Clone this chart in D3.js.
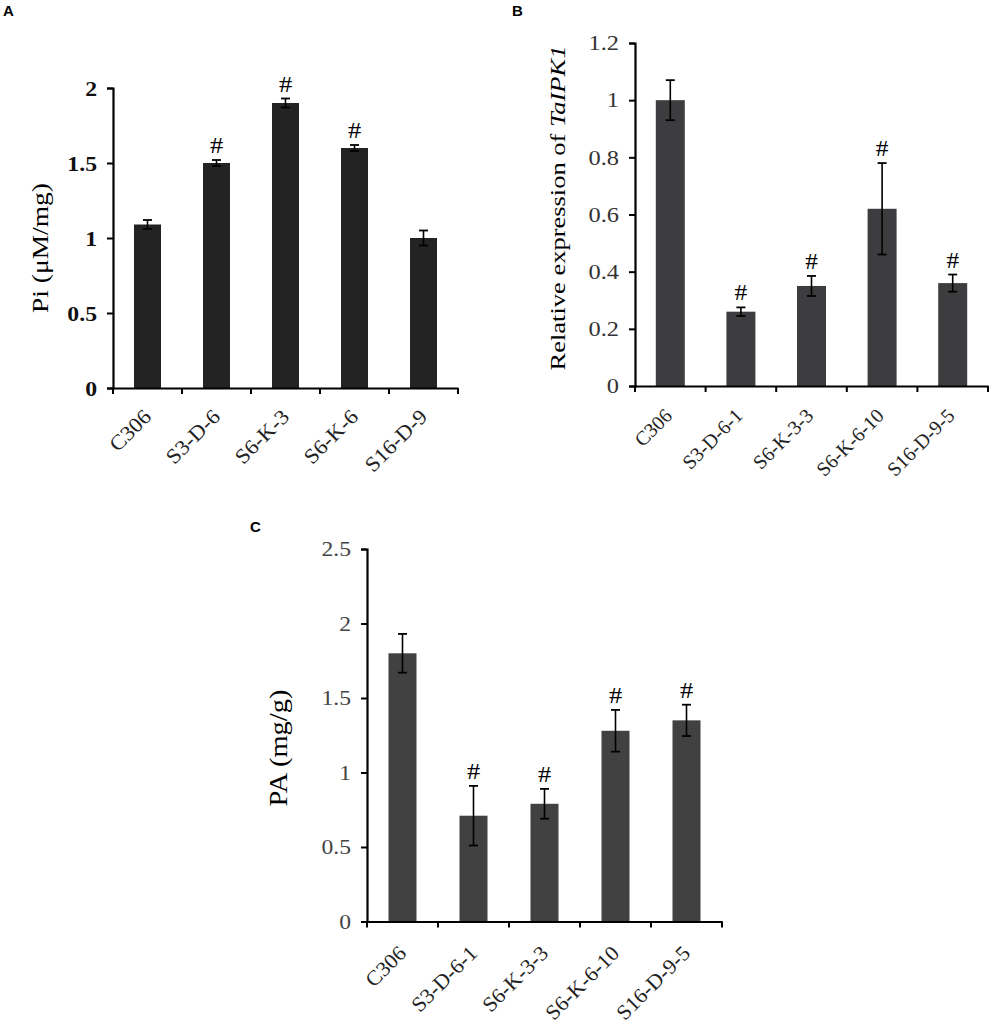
<!DOCTYPE html>
<html><head><meta charset="utf-8">
<script src="https://cdn.jsdelivr.net/npm/d3@7"></script>
<style>body{margin:0;background:#fff}svg{display:block}</style>
</head><body>
<svg id="chart" width="1000" height="1033"></svg>
<script>
// Panel A
const catsA = ["C306","S3-D-6","S6-K-3","S6-K-6","S16-D-9"];
const valsA = [1.09, 1.50, 1.90, 1.60, 1.00];
const errA  = [0.03, 0.02, 0.03, 0.02, 0.05];
const sigA  = [false, true, true, true, false];
const ticksA = [0, 0.5, 1, 1.5, 2];
// Panel B
const catsB = ["C306","S3-D-6-1","S6-K-3-3","S6-K-6-10","S16-D-9-5"];
const valsB = [1.00, 0.26, 0.35, 0.62, 0.36];
const errB  = [0.07, 0.015, 0.035, 0.16, 0.03];
const sigB  = [false, true, true, true, true];
const ticksB = [0, 0.2, 0.4, 0.6, 0.8, 1, 1.2];
// Panel C
const catsC = ["C306","S3-D-6-1","S6-K-3-3","S6-K-6-10","S16-D-9-5"];
const valsC = [1.80, 0.71, 0.79, 1.28, 1.35];
const errC  = [0.13, 0.20, 0.10, 0.14, 0.105];
const sigC  = [false, true, true, true, true];
const ticksC = [0, 0.5, 1, 1.5, 2, 2.5];

const svg = d3.select("#chart");
const serif = "'Liberation Serif','Times New Roman',serif";

function panel(o){
  const g = svg.append("g");
  const xb = d3.scaleBand().domain(o.cats).range([o.x0, o.x1]);
  const y = d3.scaleLinear().domain([0, o.ymax]).range([o.y0, o.y1]);
  const cx = c => xb(c) + xb.bandwidth()/2;
  // bars
  g.selectAll("rect.bar").data(o.vals).join("rect")
    .attr("x", (d,i)=> cx(o.cats[i]) - o.bw/2)
    .attr("width", o.bw)
    .attr("y", d=>y(d)).attr("height", d=>y(0)-y(d))
    .attr("fill", o.fill);
  // error bars
  const eg = g.selectAll("g.err").data(o.vals.map((v,i)=>({v, e:o.err[i], s:o.sig[i], c:o.cats[i]}))).join("g")
    .attr("transform",d=>`translate(${cx(d.c)},0)`);
  eg.append("line").attr("y1",d=>y(d.v+d.e)).attr("y2",d=>y(d.v-d.e))
    .attr("stroke","#000").attr("stroke-width",1.6);
  eg.append("line").attr("x1",-4.5).attr("x2",4.5).attr("y1",d=>y(d.v+d.e)).attr("y2",d=>y(d.v+d.e))
    .attr("stroke","#000").attr("stroke-width",1.8);
  eg.append("line").attr("x1",-4.5).attr("x2",4.5).attr("y1",d=>y(d.v-d.e)).attr("y2",d=>y(d.v-d.e))
    .attr("stroke","#000").attr("stroke-width",1.8);
  eg.filter(d=>d.s).append("text")
    .attr("transform",d=>`translate(0,${y(d.v+d.e)-7}) scale(1.1,1)`)
    .attr("text-anchor","middle").attr("font-family",serif).attr("font-size",o.hashSize)
    .attr("fill","#000").text("#");
  // y axis
  const ya = g.append("g").attr("transform",`translate(${o.x0},0)`)
    .call(d3.axisLeft(y).tickValues(o.ticks).tickSize(6).tickPadding(0).tickFormat(d=>String(d)));
  ya.select(".domain").attr("stroke","#000").attr("stroke-width",2.2);
  ya.selectAll(".tick line").attr("stroke","#000").attr("stroke-width",2);
  ya.selectAll(".tick text")
    .attr("x",null).attr("dy",null)
    .attr("transform",`translate(${-6-o.tickPad},${o.tickSize*0.34}) scale(${o.tickStretch},1)`)
    .attr("font-family",serif).attr("font-size",o.tickSize)
    .attr("font-weight",o.tickWeight).attr("fill",o.tickColor);
  // x axis
  const xa = g.append("g").attr("transform",`translate(0,${o.y0})`)
    .call(d3.axisBottom(xb).tickSize(0).tickFormat(""));
  xa.select(".domain").attr("stroke","#000").attr("stroke-width",2.2);
  xa.selectAll(".tick").remove();
  const edges = o.cats.map(c=>xb(c)).concat([o.x1]);
  g.selectAll("line.xt").data(edges).join("line")
    .attr("x1",d=>d).attr("x2",d=>d).attr("y1",o.y0).attr("y2",o.y0+6)
    .attr("stroke","#000").attr("stroke-width",2);
  g.selectAll("text.xl").data(o.cats).join("text")
    .attr("transform",c=>`translate(${cx(c)+o.xlDx},${o.y0+o.xlDy}) rotate(-45) scale(${o.xlStretch},1)`)
    .attr("text-anchor","end").attr("font-family",serif).attr("font-size",o.xlabSize)
    .attr("font-weight",o.xlWeight||"normal")
    .attr("fill","#222").text(c=>c);
  // y label
  const yl = g.append("text")
    .attr("transform",`translate(${o.ylx},${o.ylcy}) rotate(-90)`)
    .attr("text-anchor","middle").attr("font-family",serif).attr("font-size",o.ylSize).attr("fill","#000")
    .attr("textLength",o.ylLen).attr("lengthAdjust","spacingAndGlyphs");
  o.ylabel.forEach(p=>yl.append("tspan").attr("font-style",p.it?"italic":"normal").text(p.t));
  // panel letter
  g.append("text").attr("x",o.lx).attr("y",o.ly).attr("font-family","'Liberation Sans',Arial,sans-serif")
    .attr("font-weight","bold").attr("font-size",15).attr("fill","#000").text(o.letter);
}

panel({cats:catsA, vals:valsA, err:errA, sig:sigA, ticks:ticksA, ymax:2,
  x0:113, x1:458, y0:388, y1:88, bw:27, fill:"#232323",
  tickSize:22, tickStretch:1.08, tickWeight:"bold", tickColor:"#111", tickPad:10, hashSize:24,
  xlabSize:21, xlStretch:1.08, xlDx:5, xlDy:30,
  ylabel:[{t:"Pi (μM/mg)"}], ylx:48, ylcy:248, ylSize:24, ylLen:130, letter:"A", lx:3, ly:16});

panel({cats:catsB, vals:valsB, err:errB, sig:sigB, ticks:ticksB, ymax:1.2,
  x0:635, x1:988, y0:386, y1:43, bw:29, fill:"#3d3d3f",
  tickSize:20, tickStretch:1.22, tickWeight:"normal", tickColor:"#333", tickPad:10, hashSize:23,
  xlabSize:20, xlStretch:1.0, xlDx:3, xlDy:31,
  ylabel:[{t:"Relative expression of "},{t:"TaIPK1",it:true}], ylx:565, ylcy:208, ylSize:21, ylLen:325,
  letter:"B", lx:512, ly:16});

panel({cats:catsC, vals:valsC, err:errC, sig:sigC, ticks:ticksC, ymax:2.5,
  x0:367, x1:722, y0:921.5, y1:549, bw:28, fill:"#414141",
  tickSize:20, tickStretch:1.18, tickWeight:"normal", tickColor:"#444", tickPad:10, hashSize:24,
  xlabSize:21, xlStretch:1.05, xlDx:5, xlDy:33,
  ylabel:[{t:"PA (mg/g)"}], ylx:287, ylcy:748, ylSize:25, ylLen:117, letter:"C", lx:250, ly:532});
</script>
</body></html>
